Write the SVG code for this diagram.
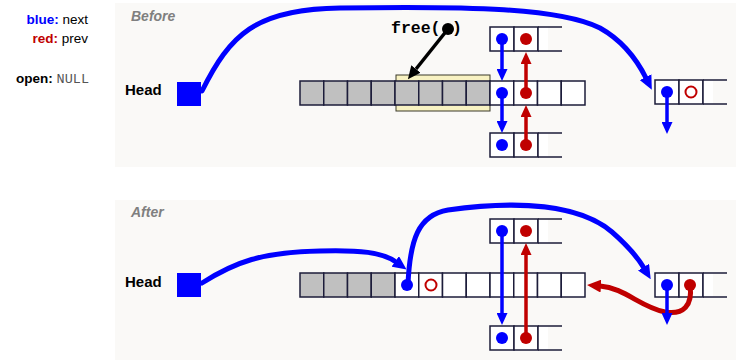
<svg xmlns="http://www.w3.org/2000/svg" width="736" height="360" viewBox="0 0 736 360">
  <style>
    .panel { fill: #faf9f7; }
    .cell { fill: #ffffff; stroke: #1c1c3a; stroke-width: 1.5; }
    .used { fill: #c0c0c0; stroke: #1c1c3a; stroke-width: 1.5; }
    .edge { stroke: #1c1c3a; stroke-width: 1.5; fill: none; }
    .bdot { fill: #0000ff; }
    .rdot { fill: #c00000; }
    .rnull { fill: none; stroke: #c00000; stroke-width: 2; }
    .bptr { stroke: #0000ff; stroke-width: 3.5; fill: none; }
    .rptr { stroke: #c00000; stroke-width: 3.5; fill: none; }
    .bcurve { stroke: #0000ff; stroke-width: 5; fill: none; stroke-linecap: round; }
    .rcurve { stroke: #c00000; stroke-width: 5; fill: none; stroke-linecap: round; }
    .title { font-family: "Liberation Sans", Arial, sans-serif; font-weight: bold; font-style: italic; font-size: 14px; fill: #7f7f7f; }
    .head { font-family: "Liberation Sans", Arial, sans-serif; font-weight: bold; font-size: 15px; fill: #000; }
    .legend { font-family: "Liberation Sans", Arial, sans-serif; font-size: 13.5px; fill: #000; }
    .mono { font-family: "Liberation Mono", "Courier New", monospace; }
  </style>
  <defs>
    <marker id="bHead" viewBox="0 0 12 11" refX="0" refY="5.5" markerWidth="12" markerHeight="11" markerUnits="userSpaceOnUse" orient="auto">
      <path d="M0,0 L12,5.5 L0,11 z" fill="#0000ff"/>
    </marker>
    <marker id="rHead" viewBox="0 0 12 11" refX="0" refY="5.5" markerWidth="12" markerHeight="11" markerUnits="userSpaceOnUse" orient="auto">
      <path d="M0,0 L12,5.5 L0,11 z" fill="#c00000"/>
    </marker>
    <marker id="bBig" viewBox="0 0 14 13" refX="1" refY="6.5" markerWidth="14" markerHeight="13" markerUnits="userSpaceOnUse" orient="auto">
      <path d="M0,0 L14,6.5 L0,13 z" fill="#0000ff"/>
    </marker>
    <marker id="rBig" viewBox="0 0 14 13" refX="1" refY="6.5" markerWidth="14" markerHeight="13" markerUnits="userSpaceOnUse" orient="auto">
      <path d="M0,0 L14,6.5 L0,13 z" fill="#c00000"/>
    </marker>
    <marker id="kHead" viewBox="0 0 13 12" refX="0" refY="6" markerWidth="13" markerHeight="12" markerUnits="userSpaceOnUse" orient="auto">
      <path d="M0,0 L13,6 L0,12 z" fill="#000"/>
    </marker>
    <!-- open-ended third cell of a free block -->
    <g id="tail">
      <rect x="0" y="0" width="10" height="24" fill="#ffffff"/>
      <path class="edge" d="M0,0 V24 M0,0 H24 M0,24 H24"/>
    </g>
  </defs>

  <!-- legend -->
  <g id="legend">
    <text class="legend" x="88" y="24" text-anchor="end"><tspan font-weight="bold" fill="#0000ff">blue:</tspan> next</text>
    <text class="legend" x="88" y="43" text-anchor="end"><tspan font-weight="bold" fill="#c00000">red:</tspan> prev</text>
    <text class="legend" x="89" y="83" text-anchor="end"><tspan font-weight="bold">open:</tspan> <tspan class="mono" fill="#555">NULL</tspan></text>
  </g>

  <!-- ===== Before ===== -->
  <rect class="panel" x="115" y="3" width="621" height="164"/>
  <text class="title" x="131" y="21">Before</text>

  <g id="before-head">
    <text class="head" x="125" y="95">Head</text>
    <rect x="177" y="82" width="24" height="24" fill="#0000ff"/>
  </g>

  <g id="before-heap">
    <rect x="396" y="75" width="94" height="36" fill="#f8f2c2" stroke="#3a3a2a" stroke-width="1"/>
    <rect class="used" x="300" y="81" width="23.75" height="24"/>
    <rect class="used" x="323.75" y="81" width="23.75" height="24"/>
    <rect class="used" x="347.5" y="81" width="23.75" height="24"/>
    <rect class="used" x="371.25" y="81" width="23.75" height="24"/>
    <rect class="used" x="395" y="81" width="23.75" height="24"/>
    <rect class="used" x="418.75" y="81" width="23.75" height="24"/>
    <rect class="used" x="442.5" y="81" width="23.75" height="24"/>
    <rect class="used" x="466.25" y="81" width="23.75" height="24"/>
    <rect class="cell" x="490" y="81" width="23.75" height="24"/>
    <rect class="cell" x="513.75" y="81" width="23.75" height="24"/>
    <rect class="cell" x="537.5" y="81" width="23.75" height="24"/>
    <rect class="cell" x="561.25" y="81" width="23.75" height="24"/>
    <circle class="bdot" cx="502" cy="93" r="6"/>
    <circle class="rdot" cx="526" cy="93" r="6"/>
  </g>

  <g id="before-upper">
    <rect class="cell" x="490" y="27" width="24" height="24"/>
    <rect class="cell" x="514" y="27" width="24" height="24"/>
    <use href="#tail" x="538" y="27"/>
    <circle class="bdot" cx="502" cy="39" r="6"/>
    <circle class="rdot" cx="526" cy="39" r="6"/>
  </g>

  <g id="before-lower">
    <rect class="cell" x="490" y="133" width="24" height="24"/>
    <rect class="cell" x="514" y="133" width="24" height="24"/>
    <use href="#tail" x="538" y="133"/>
    <circle class="bdot" cx="502" cy="145" r="6"/>
    <circle class="rdot" cx="526" cy="145" r="6"/>
  </g>

  <g id="before-right">
    <rect class="cell" x="655" y="80" width="24" height="24"/>
    <rect class="cell" x="679" y="80" width="24" height="24"/>
    <use href="#tail" x="703" y="80"/>
    <circle class="bdot" cx="667" cy="92" r="6"/>
    <circle class="rnull" cx="691" cy="92" r="5.5"/>
  </g>

  <g id="before-free-call">
    <text class="mono" x="391" y="33" font-size="16.5" font-weight="bold">free(</text>
    <text class="mono" x="452" y="33" font-size="16.5" font-weight="bold">)</text>
  </g>

  <g id="before-connectors">
    <path class="bcurve" d="M202,91 C230,35 255,9 340,8 C470,6 560,8 600,28 C625,42 638,62 646,78" marker-end="url(#bBig)"/>
    <line class="bptr" x1="502" y1="40" x2="502" y2="69" marker-end="url(#bHead)"/>
    <line class="rptr" x1="526" y1="93" x2="526" y2="64" marker-end="url(#rHead)"/>
    <line class="bptr" x1="502" y1="93" x2="502" y2="121" marker-end="url(#bHead)"/>
    <line class="rptr" x1="526" y1="145" x2="526" y2="117" marker-end="url(#rHead)"/>
    <line class="bptr" x1="667" y1="92" x2="667" y2="122" marker-end="url(#bHead)"/>
    <line x1="448" y1="29" x2="416" y2="69" stroke="#000" stroke-width="3.5" marker-end="url(#kHead)"/>
    <circle cx="448" cy="29" r="6" fill="#000"/>
  </g>

  <!-- ===== After ===== -->
  <rect class="panel" x="115" y="200" width="621" height="160"/>
  <text class="title" x="131" y="217">After</text>

  <g id="after-head">
    <text class="head" x="125" y="287">Head</text>
    <rect x="177" y="273" width="24" height="24" fill="#0000ff"/>
  </g>

  <g id="after-heap">
    <rect class="used" x="300" y="273" width="23.75" height="24"/>
    <rect class="used" x="323.75" y="273" width="23.75" height="24"/>
    <rect class="used" x="347.5" y="273" width="23.75" height="24"/>
    <rect class="used" x="371.25" y="273" width="23.75" height="24"/>
    <rect class="cell" x="395" y="273" width="23.75" height="24"/>
    <rect class="cell" x="418.75" y="273" width="23.75" height="24"/>
    <rect class="cell" x="442.5" y="273" width="23.75" height="24"/>
    <rect class="cell" x="466.25" y="273" width="23.75" height="24"/>
    <rect class="cell" x="490" y="273" width="23.75" height="24"/>
    <rect class="cell" x="513.75" y="273" width="23.75" height="24"/>
    <rect class="cell" x="537.5" y="273" width="23.75" height="24"/>
    <rect class="cell" x="561.25" y="273" width="23.75" height="24"/>
    <circle class="bdot" cx="407" cy="285" r="6"/>
    <circle class="rnull" cx="431" cy="285" r="5.5"/>
  </g>

  <g id="after-upper">
    <rect class="cell" x="490" y="219" width="24" height="24"/>
    <rect class="cell" x="514" y="219" width="24" height="24"/>
    <use href="#tail" x="538" y="219"/>
    <circle class="bdot" cx="502" cy="231" r="6"/>
    <circle class="rdot" cx="526" cy="231" r="6"/>
  </g>

  <g id="after-lower">
    <rect class="cell" x="490" y="326" width="24" height="24"/>
    <rect class="cell" x="514" y="326" width="24" height="24"/>
    <use href="#tail" x="538" y="326"/>
    <circle class="bdot" cx="502" cy="338" r="6"/>
    <circle class="rdot" cx="526" cy="338" r="6"/>
  </g>

  <g id="after-right">
    <rect class="cell" x="655" y="273" width="24" height="24"/>
    <rect class="cell" x="679" y="273" width="24" height="24"/>
    <use href="#tail" x="703" y="273"/>
    <circle class="bdot" cx="667" cy="285" r="6"/>
    <circle class="rdot" cx="690" cy="285" r="6"/>
  </g>

  <g id="after-connectors">
    <path class="bcurve" d="M202,283 C235,262 262,252 320,251 C360,250 382,252 396,262" marker-end="url(#bBig)"/>
    <path class="bcurve" d="M408,284 C410,240 418,215 448,210 C520,200 580,205 612,232 C628,246 638,258 644,268" marker-end="url(#bBig)"/>
    <path class="rcurve" d="M690,285 C693,306 683,315 665,312 C640,307 625,288 600,286" marker-end="url(#rBig)"/>
    <line class="bptr" x1="502" y1="231" x2="502" y2="313" marker-end="url(#bHead)"/>
    <line class="rptr" x1="526" y1="338" x2="526" y2="255" marker-end="url(#rHead)"/>
    <line class="bptr" x1="667" y1="285" x2="667" y2="313" marker-end="url(#bHead)"/>
  </g>
</svg>
